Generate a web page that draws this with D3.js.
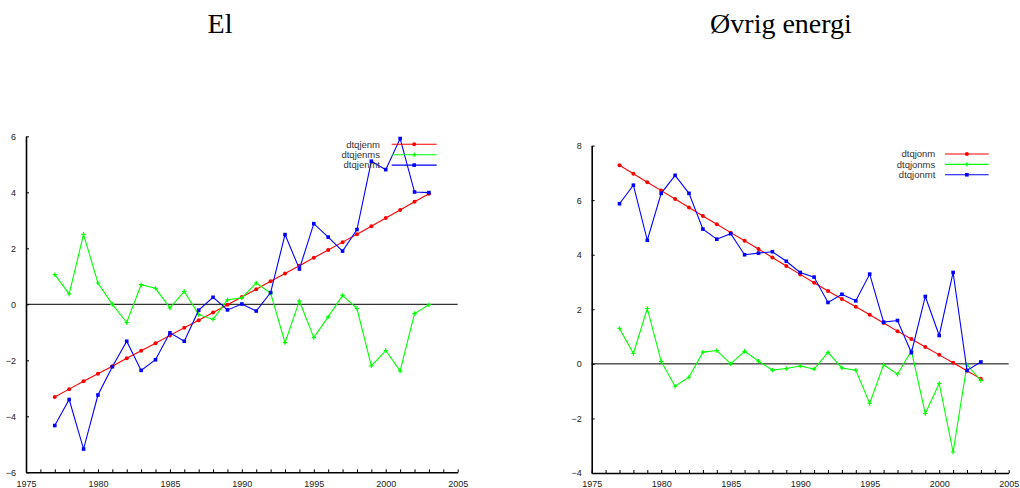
<!DOCTYPE html>
<html><head><meta charset="utf-8">
<script src="https://cdn.jsdelivr.net/npm/d3@7"></script>
<style>
body{margin:0;background:#fff;}
svg{display:block;}
</style></head>
<body>
<svg id="chart" width="1020" height="488"></svg>
<script>
const years = d3.range(1977, 2004);
const xTicks = d3.range(1975, 2006);

const elTitle = "El";
const elNames = ["dtqjenm", "dtqjenms", "dtqjenmt"];
const elM = [-3.31,-3.03,-2.75,-2.48,-2.21,-1.93,-1.66,-1.39,-1.11,-0.84,-0.57,-0.29,-0.02,0.26,0.54,0.82,1.10,1.38,1.66,1.94,2.22,2.50,2.79,3.08,3.37,3.66,3.95];
const elMS = [1.06,0.37,2.50,0.76,0.00,-0.65,0.70,0.57,-0.13,0.46,-0.37,-0.54,0.16,0.23,0.76,0.40,-1.37,0.12,-1.19,-0.45,0.32,-0.15,-2.20,-1.65,-2.38,-0.33,-0.02];
const elMT = [-4.33,-3.40,-5.17,-3.24,-2.23,-1.32,-2.36,-1.98,-1.02,-1.32,-0.21,0.25,-0.20,0.01,-0.24,0.42,2.49,1.26,2.88,2.40,1.90,2.67,5.11,4.81,5.92,4.01,3.99];
const elYTicks = [-6,-4,-2,0,2,4,6];

const ovTitle = "Øvrig energi";
const ovNames = ["dtqjonm", "dtqjonms", "dtqjonmt"];
const ovM = [7.28,6.97,6.66,6.35,6.04,5.73,5.42,5.12,4.81,4.51,4.21,3.90,3.59,3.28,2.97,2.67,2.38,2.09,1.80,1.50,1.20,0.91,0.62,0.33,0.04,-0.25,-0.55];
const ovMS = [1.30,0.38,2.03,0.09,-0.82,-0.49,0.43,0.49,0.00,0.46,0.10,-0.23,-0.17,-0.08,-0.19,0.42,-0.15,-0.23,-1.45,-0.03,-0.38,0.48,-1.82,-0.72,-3.23,-0.03,-0.61];
const ovMT = [5.87,6.55,4.53,6.25,6.91,6.25,4.94,4.57,4.77,4.00,4.06,4.11,3.76,3.35,3.18,2.25,2.55,2.31,3.29,1.53,1.59,0.41,2.47,1.04,3.35,-0.24,0.07];
const ovYTicks = [-4,-2,0,2,4,6,8];

const colors = ["#ff0000", "#00ff00", "#0000ff"];
const markers = ["circle", "plus", "square"];

const svg = d3.select("#chart");

function panel(cfg) {
  const x = d3.scaleLinear().domain([1975, 2005]).range([cfg.x0, cfg.x1]);
  const y = d3.scaleLinear().domain(cfg.yDomain).range([cfg.y0, cfg.y1]);
  const g = svg.append("g");

  g.append("text").attr("x", cfg.titleX).attr("y", 33)
    .attr("text-anchor", "middle")
    .style("font-family", "'Liberation Serif','Times New Roman',serif")
    .style("font-size", "28px").attr("fill", "#000").text(cfg.title);

  // axes
  const xa = g.append("g").attr("transform", `translate(0,${cfg.y0})`)
    .call(d3.axisBottom(x).tickValues(xTicks).tickSizeInner(-3).tickSizeOuter(0).tickPadding(8)
      .tickFormat(d => d % 5 === 0 ? String(d) : ""));
  const ya = g.append("g").attr("transform", `translate(${cfg.x0},0)`)
    .call(d3.axisLeft(y).tickValues(cfg.yTicks).tickSizeInner(-3).tickSizeOuter(0).tickPadding(10)
      .tickFormat(d3.format("d")));
  [xa, ya].forEach(a => {
    a.select(".domain").attr("stroke", "#000").attr("stroke-width", 1.6);
    a.selectAll(".tick line").attr("stroke", "#000").attr("stroke-width", 1);
    a.selectAll(".tick text").attr("fill", "#222")
      .style("font-family", "'Liberation Sans',Arial,sans-serif").style("font-size", "9px");
  });

  // zero line
  g.append("line").attr("x1", x(1975)).attr("x2", x(2005))
    .attr("y1", y(0)).attr("y2", y(0)).attr("stroke", "#000").attr("stroke-width", 1);

  const line = d3.line().x((d, i) => x(years[i])).y(d => y(d));
  function drawMarker(sel, kind, color, cx, cy) {
    if (kind === "circle") {
      sel.append("circle").attr("cx", cx).attr("cy", cy).attr("r", 2).attr("fill", color);
    } else if (kind === "square") {
      sel.append("rect").attr("x", cx - 1.8).attr("y", cy - 1.8).attr("width", 3.6).attr("height", 3.6).attr("fill", color);
    } else {
      sel.append("path").attr("d", `M${cx-2.2},${cy}H${cx+2.2}M${cx},${cy-2.2}V${cy+2.2}`)
        .attr("stroke", color).attr("stroke-width", 1.2);
    }
  }

  cfg.series.forEach((s, k) => {
    g.append("path").datum(s).attr("d", line).attr("fill", "none")
      .attr("stroke", colors[k]).attr("stroke-width", 1.1);
    const mg = g.append("g");
    s.forEach((v, i) => drawMarker(mg, markers[k], colors[k], x(years[i]), y(v)));
  });

  // legend
  cfg.names.forEach((n, k) => {
    const ly = cfg.legY + k * 10.4;
    g.append("text").attr("x", cfg.legTextX).attr("y", ly).attr("dy", "0.35em")
      .attr("text-anchor", "end").attr("fill", "#333")
      .style("font-family", "'Liberation Sans',Arial,sans-serif").style("font-size", "9.5px").text(n);
    g.append("line").attr("x1", cfg.legL0).attr("x2", cfg.legL1).attr("y1", ly).attr("y2", ly)
      .attr("stroke", colors[k]).attr("stroke-width", 1.1);
    drawMarker(g, markers[k], colors[k], (cfg.legL0 + cfg.legL1) / 2, ly);
  });
}

panel({title: elTitle, titleX: 220, x0: 26, x1: 457.7, y0: 472.3, y1: 136.3, yDomain: [-6, 6],
  yTicks: elYTicks, series: [elM, elMS, elMT], names: elNames,
  legY: 144.3, legTextX: 380, legL0: 391.7, legL1: 436.7});
panel({title: ovTitle, titleX: 781, x0: 591.7, x1: 1008.7, y0: 473, y1: 145.6, yDomain: [-4, 8],
  yTicks: ovYTicks, series: [ovM, ovMS, ovMT], names: ovNames,
  legY: 154, legTextX: 935.3, legL0: 945, legL1: 988.7});
</script>
</body></html>
